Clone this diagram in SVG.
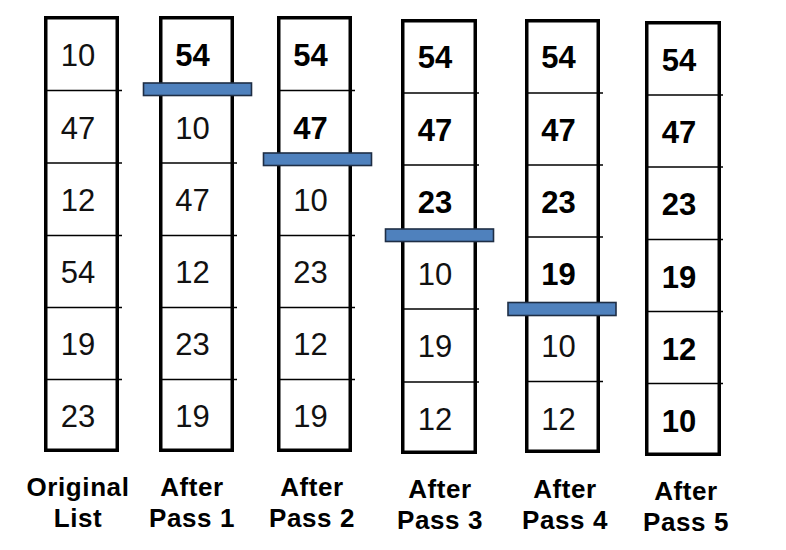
<svg xmlns="http://www.w3.org/2000/svg" width="786" height="550" viewBox="0 0 786 550">
<style>
.box{fill:none;stroke:#000;stroke-width:3.5}
.row{stroke:#000;stroke-width:1.6}
.n{font-family:"Liberation Sans",Arial,sans-serif;font-size:31px;fill:#111;text-anchor:middle}
.b{font-weight:bold;fill:#000}
.lbl{font-family:"Liberation Sans",Arial,sans-serif;font-size:26px;font-weight:bold;fill:#000;text-anchor:middle;letter-spacing:0.6px}
.bar{fill:#4F81BD;stroke:#1E2E45;stroke-width:1.6}
</style>
<rect width="786" height="550" fill="#fff"/>
<g id="col-original">
<rect class="box" x="45.75" y="17.75" width="71.5" height="432.5"/>
<line class="row" x1="46" y1="90.5" x2="122" y2="90.5"/>
<line class="row" x1="46" y1="163" x2="122" y2="163"/>
<line class="row" x1="46" y1="235.5" x2="122" y2="235.5"/>
<line class="row" x1="46" y1="307.5" x2="122" y2="307.5"/>
<line class="row" x1="46" y1="379.5" x2="122" y2="379.5"/>
<text class="n" x="78" y="66">10</text>
<text class="n" x="78" y="138.5">47</text>
<text class="n" x="78" y="211">12</text>
<text class="n" x="78" y="283">54</text>
<text class="n" x="78" y="355">19</text>
<text class="n" x="78" y="427">23</text>
<text class="lbl" x="78" y="496">Original</text>
<text class="lbl" x="78" y="527">List</text>
</g>
<g id="col-pass1">
<rect class="box" x="160.75" y="17.75" width="71.5" height="432.5"/>
<line class="row" x1="161" y1="163" x2="237" y2="163"/>
<line class="row" x1="161" y1="235.5" x2="237" y2="235.5"/>
<line class="row" x1="161" y1="307.5" x2="237" y2="307.5"/>
<line class="row" x1="161" y1="379.5" x2="237" y2="379.5"/>
<text class="n b" x="192.5" y="66">54</text>
<text class="n" x="192.5" y="138.5">10</text>
<text class="n" x="192.5" y="211">47</text>
<text class="n" x="192.5" y="283">12</text>
<text class="n" x="192.5" y="355">23</text>
<text class="n" x="192.5" y="427">19</text>
<rect class="bar" x="143.5" y="83" width="108" height="12.5"/>
<text class="lbl" x="192" y="496">After</text>
<text class="lbl" x="192" y="527">Pass 1</text>
</g>
<g id="col-pass2">
<rect class="box" x="278.75" y="17.75" width="71.5" height="432.5"/>
<line class="row" x1="279" y1="90.5" x2="355" y2="90.5"/>
<line class="row" x1="279" y1="235.5" x2="355" y2="235.5"/>
<line class="row" x1="279" y1="307.5" x2="355" y2="307.5"/>
<line class="row" x1="279" y1="379.5" x2="355" y2="379.5"/>
<text class="n b" x="310.5" y="66">54</text>
<text class="n b" x="310.5" y="138.5">47</text>
<text class="n" x="310.5" y="211">10</text>
<text class="n" x="310.5" y="283">23</text>
<text class="n" x="310.5" y="355">12</text>
<text class="n" x="310.5" y="427">19</text>
<rect class="bar" x="263.5" y="153" width="108" height="12.5"/>
<text class="lbl" x="312" y="496">After</text>
<text class="lbl" x="312" y="527">Pass 2</text>
</g>
<g id="col-pass3">
<rect class="box" x="402.75" y="20.75" width="72.5" height="431.5"/>
<line class="row" x1="403" y1="93" x2="479" y2="93"/>
<line class="row" x1="403" y1="165" x2="479" y2="165"/>
<line class="row" x1="403" y1="309" x2="479" y2="309"/>
<line class="row" x1="403" y1="382" x2="479" y2="382"/>
<text class="n b" x="435" y="68">54</text>
<text class="n b" x="435" y="141">47</text>
<text class="n b" x="435" y="213">23</text>
<text class="n" x="435" y="285">10</text>
<text class="n" x="435" y="357">19</text>
<text class="n" x="435" y="430">12</text>
<rect class="bar" x="385.5" y="229" width="108" height="12.5"/>
<text class="lbl" x="440" y="498">After</text>
<text class="lbl" x="440" y="529">Pass 3</text>
</g>
<g id="col-pass4">
<rect class="box" x="526.75" y="20.75" width="71.5" height="430.5"/>
<line class="row" x1="527" y1="93" x2="603" y2="93"/>
<line class="row" x1="527" y1="165" x2="603" y2="165"/>
<line class="row" x1="527" y1="237" x2="603" y2="237"/>
<line class="row" x1="527" y1="381.5" x2="603" y2="381.5"/>
<text class="n b" x="558.5" y="68">54</text>
<text class="n b" x="558.5" y="141">47</text>
<text class="n b" x="558.5" y="213">23</text>
<text class="n b" x="558.5" y="285">19</text>
<text class="n" x="558.5" y="357">10</text>
<text class="n" x="558.5" y="430">12</text>
<rect class="bar" x="508" y="302.5" width="108" height="13"/>
<text class="lbl" x="565" y="498">After</text>
<text class="lbl" x="565" y="529">Pass 4</text>
</g>
<g id="col-pass5">
<rect class="box" x="646.75" y="22.75" width="72.5" height="431.5"/>
<line class="row" x1="647" y1="95" x2="723" y2="95"/>
<line class="row" x1="647" y1="167" x2="723" y2="167"/>
<line class="row" x1="647" y1="239.5" x2="723" y2="239.5"/>
<line class="row" x1="647" y1="311.5" x2="723" y2="311.5"/>
<line class="row" x1="647" y1="383.5" x2="723" y2="383.5"/>
<text class="n b" x="679" y="70.5">54</text>
<text class="n b" x="679" y="143">47</text>
<text class="n b" x="679" y="215">23</text>
<text class="n b" x="679" y="287.5">19</text>
<text class="n b" x="679" y="359.5">12</text>
<text class="n b" x="679" y="432">10</text>
<text class="lbl" x="686" y="500">After</text>
<text class="lbl" x="686" y="531">Pass 5</text>
</g>
</svg>
